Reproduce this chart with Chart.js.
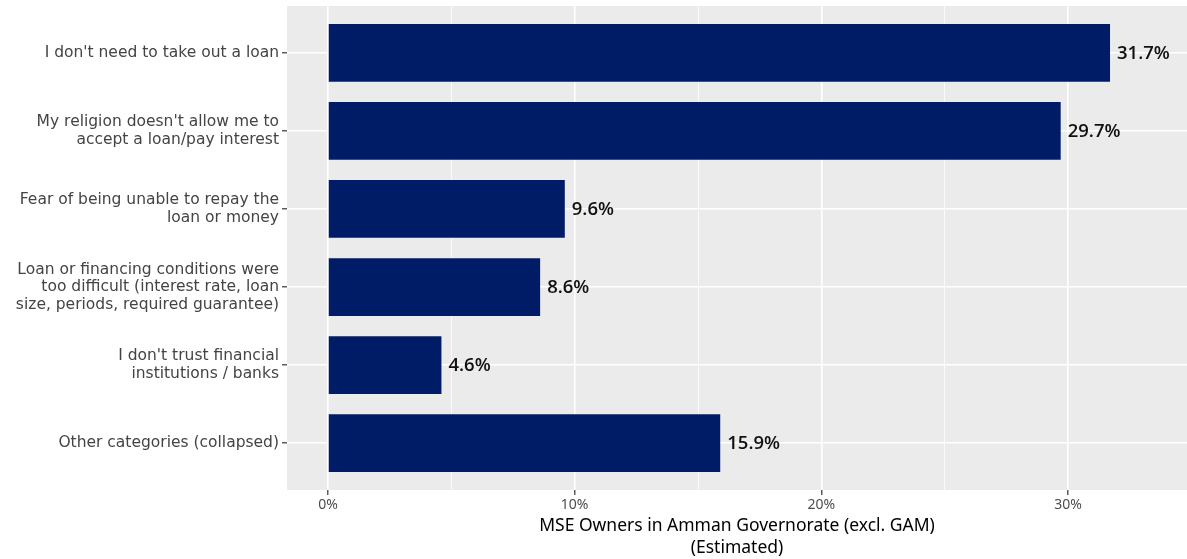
<!DOCTYPE html>
<html>
<head>
<meta charset="utf-8">
<script src="https://cdn.jsdelivr.net/npm/chart.js@4"></script>
<style>
  html, body { margin: 0; padding: 0; background: #fff; }
  #wrap { width: 1187px; height: 559px; position: relative; }
</style>
</head>
<body>
<div id="wrap"><canvas id="chart"></canvas></div>
<script>
// Chart data
const categories = [
    "I don't need to take out a loan",
    ["My religion doesn't allow me to", "accept a loan/pay interest"],
    ["Fear of being unable to repay the", "loan or money"],
    ["Loan or financing conditions were", "too difficult (interest rate, loan", "size, periods, required guarantee)"],
    ["I don't trust financial", "institutions / banks"],
    "Other categories (collapsed)"
];
const values = [31.7, 29.7, 9.6, 8.6, 4.6, 15.9];
const xTicks = [0, 10, 20, 30];
const xTitle = ["MSE Owners in Amman Governorate (excl. GAM)", "(Estimated)"];

const barColor = '#011c67';

// grey panel behind the plot area (ggplot style)
const panelBg = {
    id: 'panelBg',
    beforeDraw(chart) {
        const { ctx, chartArea: a } = chart;
        ctx.save();
        ctx.fillStyle = '#ebebeb';
        ctx.fillRect(a.left, a.top, a.right - a.left, a.bottom - a.top);
        ctx.restore();
    }
};

// value labels at the end of each bar
const valueLabels = {
    id: 'valueLabels',
    afterDatasetsDraw(chart) {
        const { ctx } = chart;
        const meta = chart.getDatasetMeta(0);
        ctx.save();
        ctx.font = '600 18.5px "Open Sans"';
        ctx.fillStyle = '#111';
        ctx.textAlign = 'left';
        ctx.textBaseline = 'middle';
        meta.data.forEach((bar, i) => {
            ctx.fillText(values[i].toFixed(1) + '%', bar.x + 7, bar.y + 1);
        });
        ctx.restore();
    }
};

const ctx = document.getElementById('chart').getContext('2d');

new Chart(ctx, {
    type: 'bar',
    data: {
        datasets: [{
            data: values.map((v, i) => ({ x: v, y: i })),
            backgroundColor: barColor,
            borderWidth: 0,
            barPercentage: 0.74,
            categoryPercentage: 1
        }]
    },
    options: {
        indexAxis: 'y',
        responsive: true,
        maintainAspectRatio: false,
        animation: false,
        layout: { padding: { top: 6, right: 0, left: 0, bottom: 0 } },
        scales: {
            x: {
                type: 'linear',
                min: -1.66,
                max: 34.82,
                border: { display: false },
                grid: {
                    color: '#ffffff',
                    lineWidth: c => (c.tick && c.tick.value % 10 === 0) ? 1.6 : 0.8,
                    tickColor: c => (c.tick && xTicks.includes(c.tick.value)) ? '#333' : 'rgba(0,0,0,0)',
                    tickLength: 5,
                    tickWidth: 1.2
                },
                ticks: {
                    stepSize: 5,
                    includeBounds: false,
                    maxRotation: 0,
                    autoSkip: false,
                    padding: 2,
                    color: '#4d4d4d',
                    font: { family: '"Noto Sans"', size: 14 },
                    callback: v => xTicks.includes(v) ? v + '%' : ''
                },
                title: {
                    display: true,
                    text: xTitle,
                    color: '#000',
                    font: { family: '"Noto Sans"', size: 17.5, lineHeight: 1.25 },
                    padding: { top: 0, bottom: 0 }
                },
                afterFit(scale) { scale.height = 69; }
            },
            y: {
                type: 'linear',
                min: -0.6,
                max: 5.6,
                reverse: true,
                offset: false,
                border: { display: false },
                grid: {
                    offset: false,
                    color: '#ffffff',
                    lineWidth: 1.6,
                    tickColor: '#333',
                    tickLength: 5,
                    tickWidth: 1.2
                },
                ticks: {
                    stepSize: 1,
                    includeBounds: false,
                    autoSkip: false,
                    padding: 3,
                    color: '#444',
                    font: { family: '"DejaVu Sans"', size: 15.5, lineHeight: 1.13 },
                    callback: v => Number.isInteger(v) ? categories[v] : ''
                },
                afterFit(scale) {
                    scale.width = 287;
                    scale.paddingTop = 0;
                    scale.paddingBottom = 0;
                }
            }
        },
        plugins: {
            legend: { display: false },
            tooltip: { enabled: false }
        }
    },
    plugins: [panelBg, valueLabels]
});
</script>
</body>
</html>
